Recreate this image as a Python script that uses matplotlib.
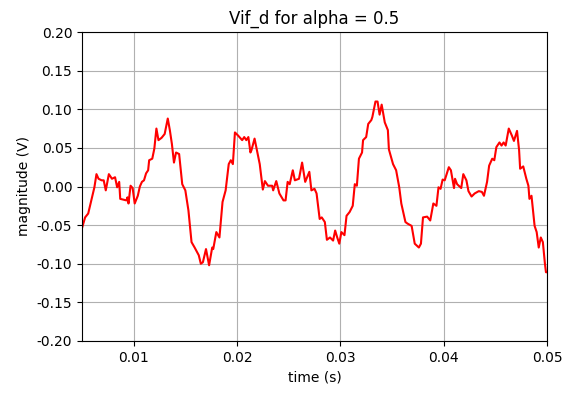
import matplotlib
matplotlib.use("Agg")
import matplotlib.pyplot as plt
import numpy as np
from matplotlib.ticker import FormatStrFormatter

# time in ms, voltage in mV
time_ms = [5.0, 5.3, 5.6, 5.9, 6.2, 6.4, 6.6, 6.9, 7.1, 7.3, 7.6, 7.9, 8.2, 8.4, 8.6, 8.7,
           9.0, 9.3, 9.4, 9.5, 9.7, 9.9, 10.1, 10.4, 10.6, 10.8, 11.0, 11.2, 11.4, 11.5,
           11.8, 12.0, 12.2, 12.4, 12.7, 13.0, 13.3, 13.5, 13.7, 13.9, 14.1, 14.4, 14.7,
           15.0, 15.3, 15.6, 15.9, 16.3, 16.5, 16.7, 17.0, 17.3, 17.6, 17.7, 18.0, 18.3,
           18.6, 18.9, 19.2, 19.4, 19.6, 19.8, 20.1, 20.5, 20.7, 20.9, 21.1, 21.3, 21.4,
           21.7, 21.9, 22.2, 22.5, 22.7, 23.0, 23.4, 23.5, 23.8, 24.1, 24.5, 24.7, 24.9,
           25.1, 25.4, 25.6, 26.0, 26.3, 26.6, 27.0, 27.2, 27.5, 27.7, 28.0, 28.2, 28.5,
           28.7, 29.0, 29.3, 29.5, 29.7, 29.9, 30.1, 30.4, 30.6, 30.9, 31.2, 31.4, 31.6,
           31.8, 32.1, 32.2, 32.5, 32.7, 33.0, 33.1, 33.4, 33.6, 33.8, 34.0, 34.3, 34.6,
           34.7, 35.1, 35.4, 35.7, 35.9, 36.3, 36.5, 36.9, 37.2, 37.6, 37.8, 38.0, 38.4,
           38.7, 39.0, 39.3, 39.5, 39.7, 39.9, 40.1, 40.5, 40.7, 41.0, 41.1, 41.3, 41.7,
           41.9, 42.2, 42.4, 42.7, 43.0, 43.4, 43.7, 43.9, 44.2, 44.4, 44.7, 44.9, 45.1,
           45.4, 45.6, 45.8, 46.0, 46.3, 46.6, 46.8, 47.1, 47.3, 47.4, 47.7, 48.0, 48.2,
           48.3, 48.5, 48.8, 49.0, 49.2, 49.4, 49.6, 49.8, 49.9, 50.0]
vif_mv = [-54, -40, -35, -18, -1, 16, 10, 8, 8, -5, 16, 10, 12, -1, 6, -16,
          -17, -18, -14, -22, 1, -2, -22, -12, 0, 6, 8, 17, 21, 34,
          36, 49, 75, 60, 63, 68, 88, 73, 55, 31, 44, 42, 3,
          -5, -31, -72, -79, -89, -100, -98, -81, -102, -79, -81, -59, -66,
          -20, -5, 29, 34, 29, 70, 66, 60, 64, 60, 64, 44, 47,
          62, 49, 29, -4, 7, 1, 1, -5, 7, -9, -18, -18, 6,
          3, 21, 8, 10, 31, 6, 19, -5, -3, -9, -42, -40, -46,
          -69, -66, -70, -57, -66, -74, -59, -63, -38, -33, -25, 3, 1,
          36, 44, 60, 64, 81, 86, 90, 110, 110, 93, 106, 83, 73,
          48, 29, 21, -1, -22, -46, -48, -51, -74, -79, -74, -40, -39,
          -44, -22, -25, -1, -3, 9, 8, 25, 21, -2, 10, 3, -2,
          16, 8, -6, -13, -9, -6, -7, -12, 6, 27, 36, 34, 51,
          57, 53, 57, 53, 75, 66, 59, 72, 47, 23, 26, 10, 1,
          -16, -12, -51, -59, -79, -66, -72, -100, -111, -111]

xticks = [0.01, 0.02, 0.03, 0.04, 0.05]
yticks = [-0.20, -0.15, -0.10, -0.05, 0.00, 0.05, 0.10, 0.15, 0.20]

t = np.array(time_ms) / 1000.0
v = np.array(vif_mv) / 1000.0

fig = plt.figure(figsize=(5.71, 3.93), dpi=100)
ax = fig.add_axes([82 / 571, 1 - 341 / 393, (547 - 82) / 571, (341 - 32) / 393])
ax.plot(t, v, color="red", linewidth=1.5)
ax.set_xlim(0.005, 0.05)
ax.set_ylim(-0.2, 0.2)
ax.set_xticks(xticks)
ax.set_yticks(yticks)
ax.yaxis.set_major_formatter(FormatStrFormatter("%.2f"))
ax.xaxis.set_major_formatter(FormatStrFormatter("%.2f"))
ax.grid(True)
ax.set_title("Vif_d for alpha = 0.5")
ax.set_xlabel("time (s)")
ax.set_ylabel("magnitude (V)")
fig.savefig("out.png", dpi=100)
